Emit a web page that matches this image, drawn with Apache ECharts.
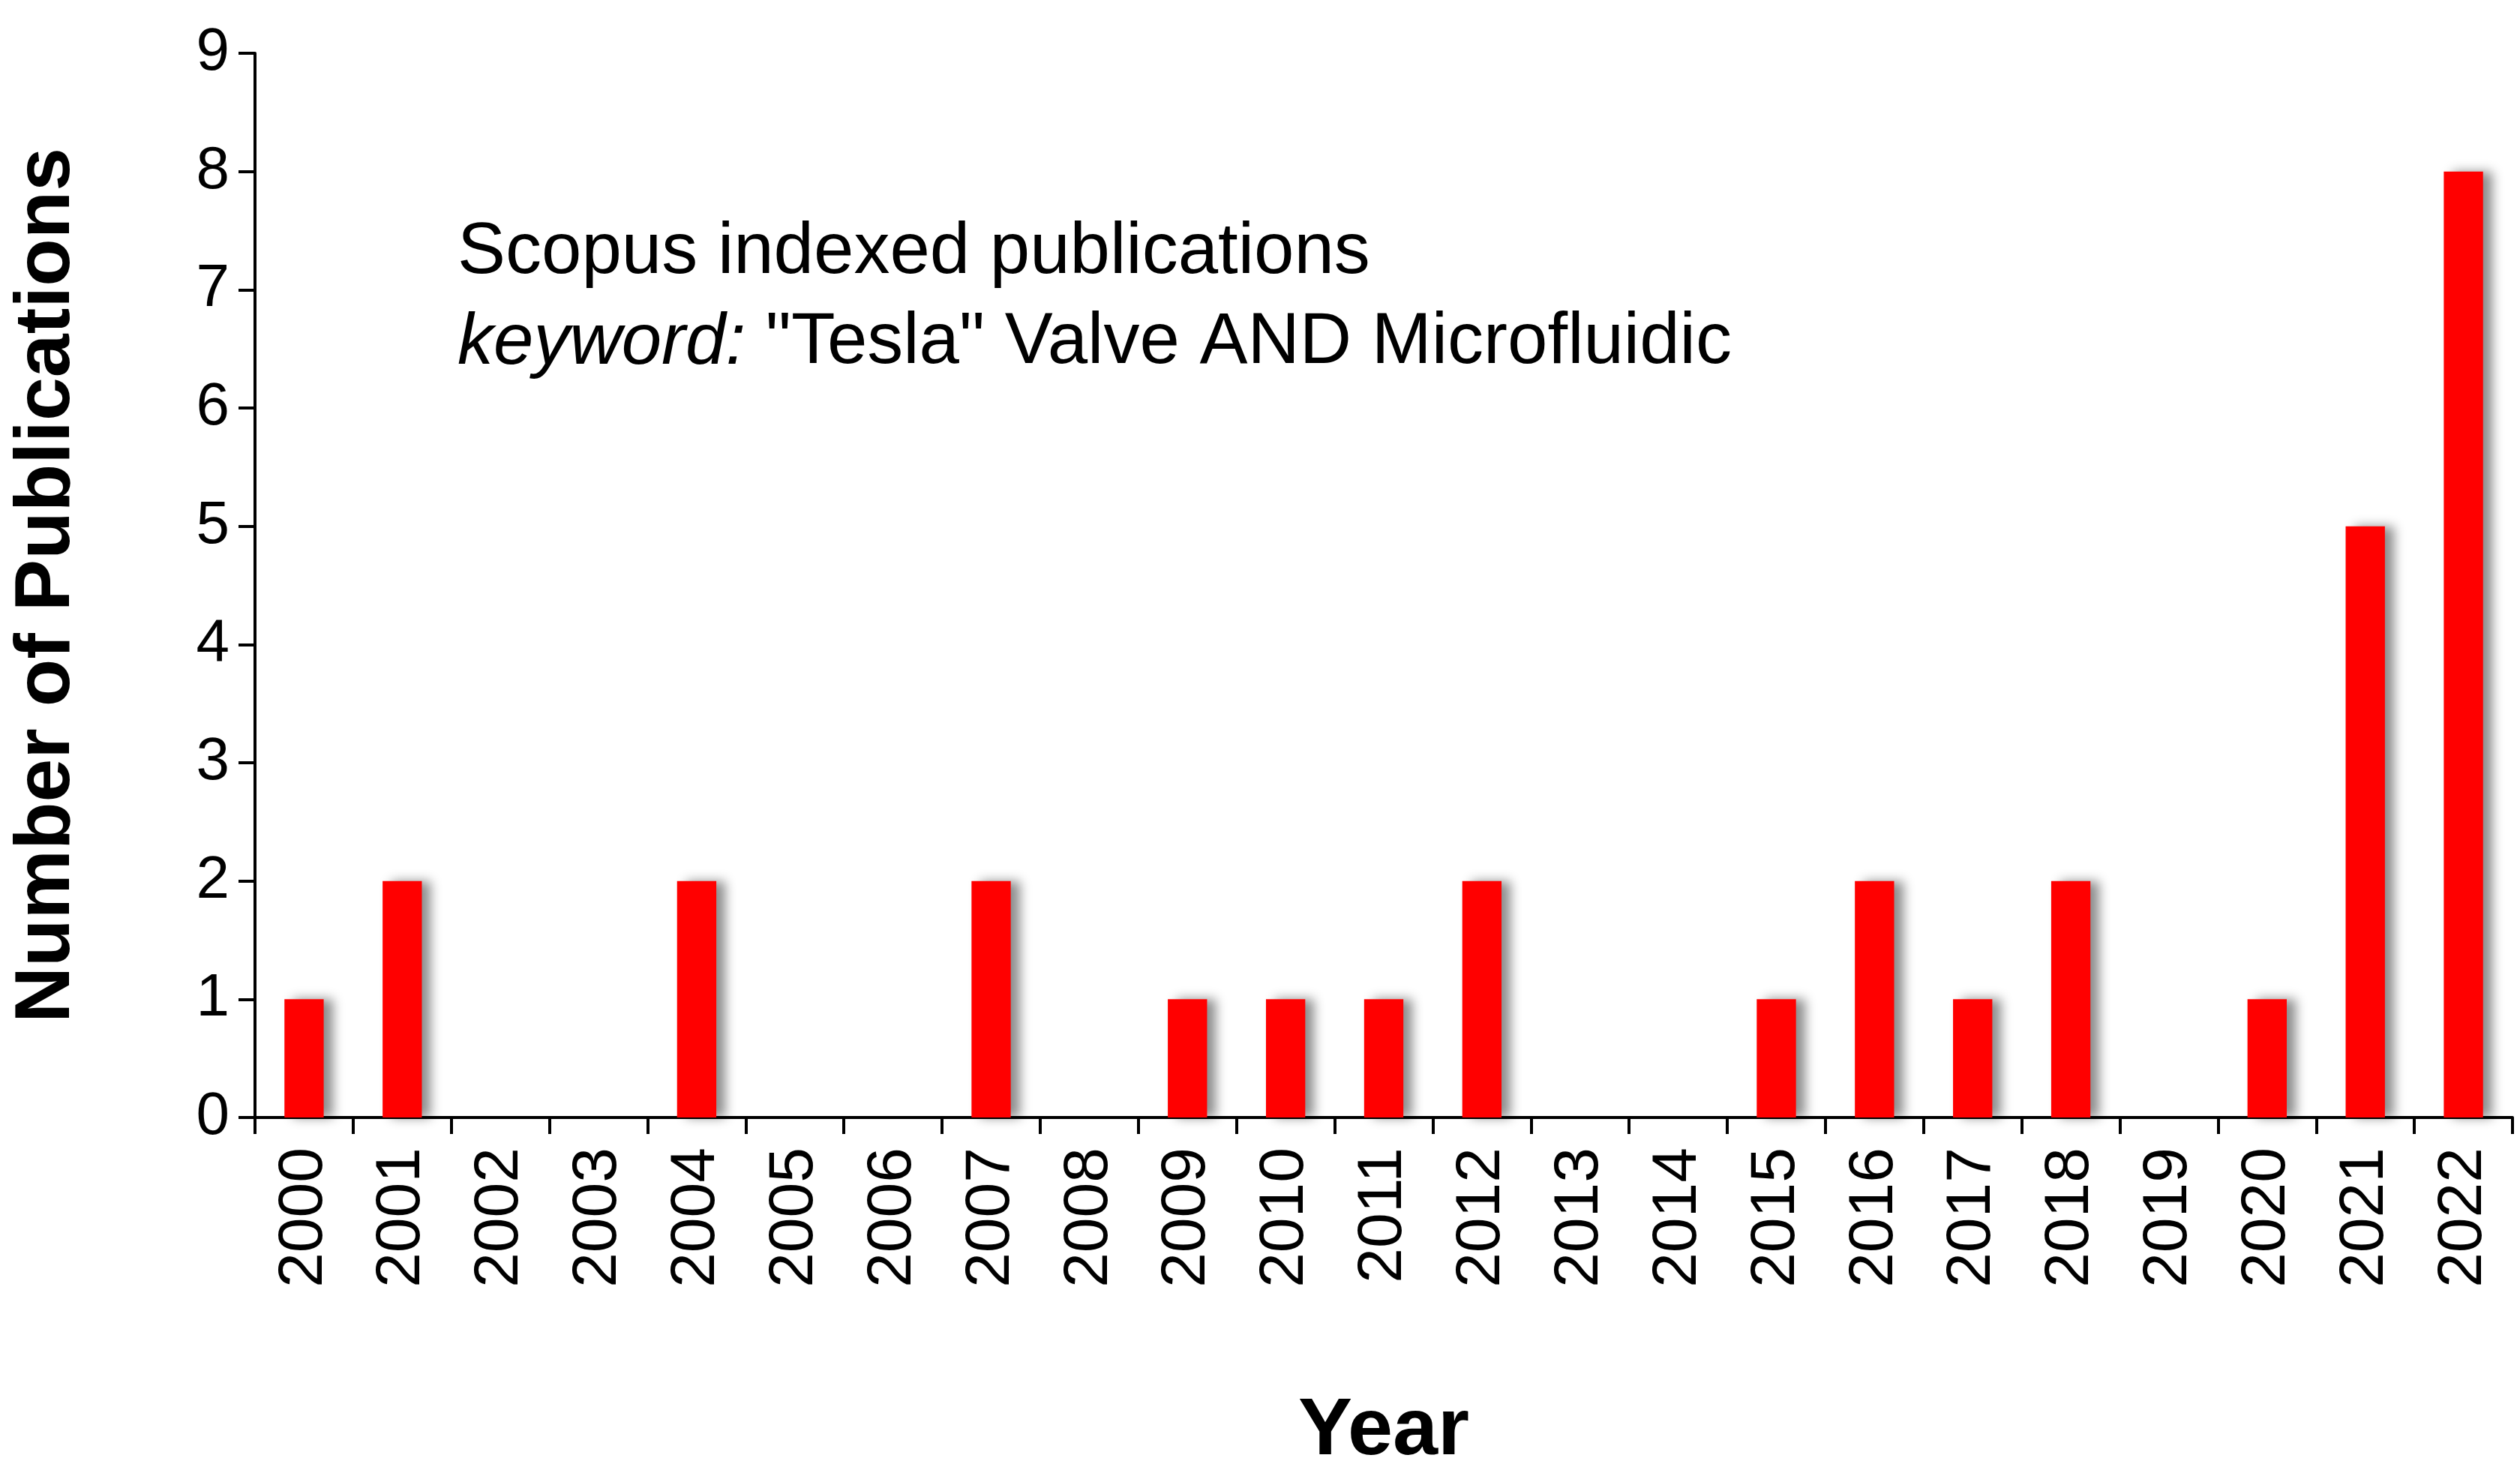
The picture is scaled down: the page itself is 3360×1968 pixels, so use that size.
<!DOCTYPE html>
<html>
<head>
<meta charset="UTF-8">
<title>Tesla valve publications</title>
<script src="https://cdn.jsdelivr.net/npm/echarts@6/dist/echarts.min.js"></script>
<style>html,body{margin:0;background:#fff}</style>
</head>
<body>
<div id="main" style="width:3360px;height:1968px;"></div>
<script type="text/javascript">
// data
var years = ['2000','2001','2002','2003','2004','2005','2006','2007','2008','2009','2010','2011',
             '2012','2013','2014','2015','2016','2017','2018','2019','2020','2021','2022'];
var counts = [1,2,0,0,2,0,0,2,0,1,1,1,2,0,0,1,2,1,2,0,1,5,8];
var yTicks = [0,1,2,3,4,5,6,7,8,9];

var myChart = echarts.init(document.getElementById('main'));
var font = 'Liberation Sans, Arial, sans-serif';
var option = {
    animation: false,
    grid: { left: 340, right: 10, top: 71, bottom: 420 },
    graphic: [{
        type: 'text', left: 610, top: 290,
        style: { text: 'Scopus indexed publications', font: '96px ' + font, fill: '#000' }
    }, {
        type: 'text', left: 610, top: 410,
        style: {
            text: '{i|keyword:} "Tesla" Valve AND Microfluidic',
            font: '96px ' + font, fill: '#000',
            rich: { i: { fontStyle: 'italic', fontSize: 96, fontFamily: font } }
        }
    }],
    xAxis: {
        type: 'category',
        data: years,
        name: 'Year',
        nameLocation: 'middle',
        nameGap: 365,
        nameTextStyle: { fontSize: 108, fontWeight: 'bold', fontFamily: font, color: '#000' },
        axisLine: { lineStyle: { color: '#000', width: 4 } },
        axisTick: { show: true, alignWithLabel: false, length: 22, lineStyle: { color: '#000', width: 4 } },
        axisLabel: { rotate: 90, fontSize: 84, fontFamily: font, color: '#000', margin: 40 }
    },
    yAxis: {
        type: 'value',
        min: 0, max: yTicks[yTicks.length - 1], interval: 1,
        name: 'Number of Publications',
        nameLocation: 'middle',
        nameGap: 225,
        nameTextStyle: { fontSize: 104, fontWeight: 'bold', fontFamily: font, color: '#000' },
        axisLine: { show: true, lineStyle: { color: '#000', width: 4 } },
        axisTick: { show: true, length: 22, lineStyle: { color: '#000', width: 4 } },
        axisLabel: { fontSize: 80, fontFamily: font, color: '#000', margin: 34 },
        splitLine: { show: false }
    },
    series: [{
        type: 'bar',
        data: counts,
        barWidth: '40%',
        itemStyle: {
            color: '#ff0000',
            shadowColor: 'rgba(0,0,0,0.45)',
            shadowBlur: 14,
            shadowOffsetX: 12,
            shadowOffsetY: 0
        }
    }]
};
myChart.setOption(option);
</script>
</body>
</html>
